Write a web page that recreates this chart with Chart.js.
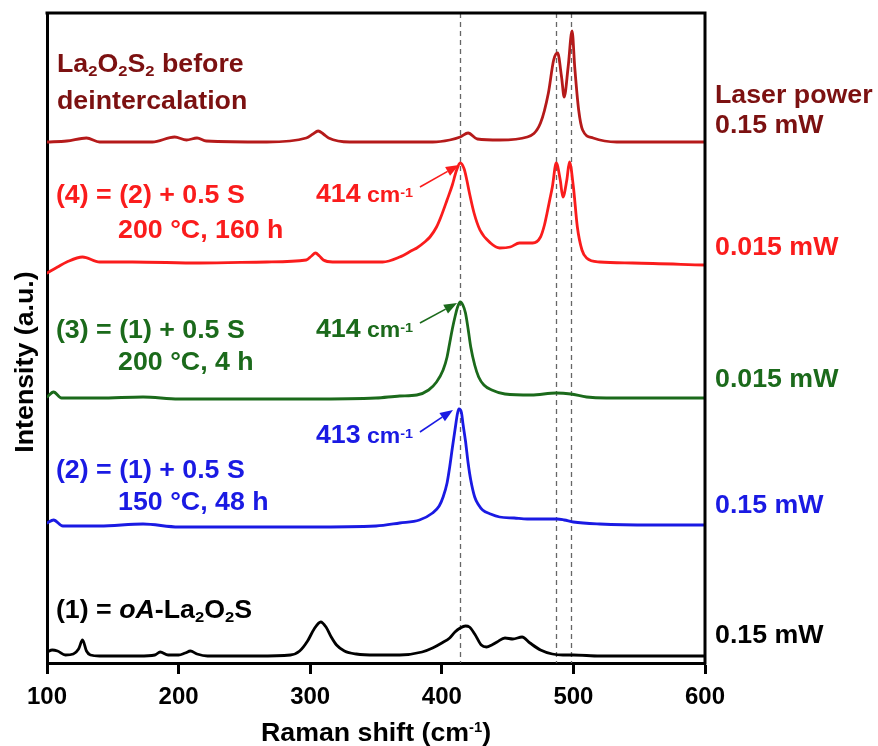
<!DOCTYPE html>
<html>
<head>
<meta charset="utf-8">
<title>Raman spectra</title>
<script src="https://cdn.jsdelivr.net/npm/chart.js@4.4.1/dist/chart.umd.min.js"></script>
<style>
  html, body { margin: 0; padding: 0; background: #fff; }
  #wrap { width: 878px; height: 746px; }
</style>
</head>
<body>
<div id="wrap"><canvas id="chart" width="878" height="746"></canvas></div>
<script>
// === Datos (intensidad en unidades arbitrarias, apiladas) ===
const xTicks = [100, 200, 300, 400, 500, 600];
const dashLines = [414, 487, 498];

// (1) oA-La2O2S, 0.15 mW
const s1X = [100,104,108,114,120,124,127,130,133,140,170,182,186,192,200,205,209,214,222,260,285,292,298,303,308,312,316,320,326,335,350,368,385,393,400,406,410,414,418,421,425,430,434,438,442,448,454,461,467,475,484,492,500,520,560,600];
const s1Y = [11,13,12,8,9,14,23,12,8,7,7,8,11,8,8,10,12,9,7,7,8,12,22,34,41,36,26,18,12,9,8,8,11,15,20,25,31,35,37,36,29,18,16,18,21,25,24,26,20,13,9,8,8,7,7,7];

// (2) = (1) + 0.5 S, 150 °C 48 h
const s2X = [100,105,112,140,173,200,250,300,350,368,383,393,398,401,404,406,408,410,412,413,415,416,418,420,422,425,428,431,437,444,455,465,478,487.5,493,500,520,560,600];
const s2Y = [140,143,137,137,139,136,136,136,137,140,143,150,157,166,180,196,215,233,250,254,250,240,222,200,183,166,158,153,149,146,145,144,144,144,143,141,139,138,138];

// (3) = (1) + 0.5 S, 200 °C 4 h
const s3X = [100,105,111,140,173,200,250,300,350,368,381,390,396,401,404,406,408,410,412,414,416,418,420,422,425,428,432,438,448,468,487,498,510,525,560,600];
const s3Y = [266,271,265,265,266,264,264,264,265,267,268,273,281,293,306,320,334,346,356,361,358,350,334,316,298,286,278,273,269,268,270,269,266,265,265,265];

// (4) = (2) + 0.5 S, 200 °C 160 h
const s4X = [100,108,115,127,140,165,216,267,297,301,304,307,310,317,355,368,378,381,387,391,396,399,404,408,411,414,417,419,421,424.5,429,437,444,452,459,469,475,478,480,482,484,487,490,492,495,497,500,503,506.5,510,520,545,600];
const s4Y = [390,396,401,406,401,401,400,401,403,407,410,407,403,401,401,406,413,415,421,426,436,445,463,478,492,500,494,483,470,450,433,420,415,416,420,420,426,438,450,463,476,500,483,466,483,501,476,436,413,405,401,400,398];

// La2O2S2 antes de la desintercalación
const s5X = [100,115,130,140,180,197,206,214,221,267,297,302,306,310,314,330,368,393,406,414,420,427,444,465,475,481,485,488,491,493,496,499,501,504,507,515,533,600];
const s5Y = [521,522,525,521,521,526,523,525,522,521,525,529,532,529,525,521,521,521,523,526,530,524,523,526,540,570,603,610,586,566,596,632,596,553,533,525,521,521];

// Colores
const BLACK = '#000000';
const BLUE = '#1a1ae3';
const GREEN = '#1b6a1b';
const RED = '#fa1c1c';
const DARKRED_LINE = '#b51a1a';
const DARKRED_TEXT = '#7c1111';

// Textos (posiciones en unidades de datos)
const leftLabels = [
  { x: 107.6, y: 591, color: DARKRED_TEXT, parts: [['La'],['2','sub'],['O'],['2','sub'],['S'],['2','sub'],[' before']] },
  { x: 107.6, y: 554, color: DARKRED_TEXT, parts: [['deintercalation']] },
  { x: 106.8, y: 460, color: RED,   parts: [['(4) = (2) + 0.5 S']] },
  { x: 154,   y: 425, color: RED,   parts: [['200 °C, 160 h']] },
  { x: 304.4, y: 461, color: RED,   parts: [['414'],[' cm','cm'],['-1','csup']] },
  { x: 106.8, y: 325, color: GREEN, parts: [['(3) = (1) + 0.5 S']] },
  { x: 154,   y: 293, color: GREEN, parts: [['200 °C, 4 h']] },
  { x: 304.4, y: 326, color: GREEN, parts: [['414'],[' cm','cm'],['-1','csup']] },
  { x: 106.8, y: 185, color: BLUE,  parts: [['(2) = (1) + 0.5 S']] },
  { x: 154,   y: 153, color: BLUE,  parts: [['150 °C, 48 h']] },
  { x: 304.4, y: 220, color: BLUE,  parts: [['413'],[' cm','cm'],['-1','csup']] },
  { x: 106.8, y: 45,  color: BLACK, parts: [['(1) = '],['oA','i'],['-La'],['2','sub'],['O'],['2','sub'],['S']] },
];
const rightLabels = [
  { y: 560, color: DARKRED_TEXT, text: 'Laser power' },
  { y: 530, color: DARKRED_TEXT, text: '0.15 mW' },
  { y: 408, color: RED,   text: '0.015 mW' },
  { y: 276, color: GREEN, text: '0.015 mW' },
  { y: 150, color: BLUE,  text: '0.15 mW' },
  { y: 20,  color: BLACK, text: '0.15 mW' },
];
const arrows = [
  { from: [383.4, 476], to: [413.0, 498], color: RED },
  { from: [383.4, 340], to: [411.6, 360], color: GREEN },
  { from: [383.4, 231], to: [408.5, 253], color: BLUE },
];

const FONT = '"Liberation Sans", Arial, Helvetica, sans-serif';
const SX = 1.07;   // el texto de la figura original es algo más ancho
const TXT = 25;

// === Utilidades ===
const zip = (xs, ys) => xs.map((x, i) => ({ x, y: ys[i] }));

function runStyle(kind, size){
  if(kind === 'sub')  return { f: `bold ${size*0.62}px ${FONT}`, dy: size*0.16 };
  if(kind === 'sup')  return { f: `bold ${size*0.55}px ${FONT}`, dy: -size*0.36 };
  if(kind === 'csup') return { f: `bold ${size*0.54}px ${FONT}`, dy: -size*0.22 };
  if(kind === 'cm')   return { f: `bold ${size*0.86}px ${FONT}`, dy: 0 };
  if(kind === 'i')    return { f: `italic bold ${size}px ${FONT}`, dy: 0 };
  return { f: `bold ${size}px ${FONT}`, dy: 0 };
}
function richWidth(ctx, parts, size){
  let w = 0;
  for(const [t, k] of parts){ ctx.font = runStyle(k, size).f; w += ctx.measureText(t).width; }
  return w;
}
function drawRich(ctx, parts, x, y, color, size, align='left', rot=0){
  ctx.save();
  ctx.translate(x, y);
  if(rot) ctx.rotate(rot);
  ctx.scale(SX, 1);
  ctx.fillStyle = color;
  ctx.textAlign = 'left';
  ctx.textBaseline = 'alphabetic';
  let cx = align === 'center' ? -richWidth(ctx, parts, size)/2 : 0;
  for(const [t, k] of parts){
    const r = runStyle(k, size);
    ctx.font = r.f;
    ctx.fillText(t, cx, r.dy);
    cx += ctx.measureText(t).width;
  }
  ctx.restore();
}
function drawArrow(ctx, x1, y1, x2, y2, color){
  const ang = Math.atan2(y2 - y1, x2 - x1);
  const L = 13, W = 5;
  ctx.save();
  ctx.strokeStyle = color; ctx.fillStyle = color; ctx.lineWidth = 1.6;
  ctx.beginPath();
  ctx.moveTo(x1, y1);
  ctx.lineTo(x2 - L*Math.cos(ang), y2 - L*Math.sin(ang));
  ctx.stroke();
  ctx.beginPath();
  ctx.moveTo(x2, y2);
  ctx.lineTo(x2 - L*Math.cos(ang) + W*Math.sin(ang), y2 - L*Math.sin(ang) - W*Math.cos(ang));
  ctx.lineTo(x2 - L*Math.cos(ang) - W*Math.sin(ang), y2 - L*Math.sin(ang) + W*Math.cos(ang));
  ctx.closePath();
  ctx.fill();
  ctx.restore();
}

// === Plugin: líneas discontinuas, marco, textos y flechas ===
const decor = {
  id: 'decor',
  beforeDatasetsDraw(chart){
    const { ctx, chartArea: a, scales: { x } } = chart;
    ctx.save();
    ctx.strokeStyle = '#666';
    ctx.lineWidth = 1.3;
    ctx.setLineDash([5, 4]);
    for(const v of dashLines){
      const px = Math.round(x.getPixelForValue(v)) + 0.5;
      ctx.beginPath(); ctx.moveTo(px, a.top); ctx.lineTo(px, a.bottom); ctx.stroke();
    }
    ctx.restore();
  },
  afterDraw(chart){
    const { ctx, chartArea: a, scales: { x, y } } = chart;
    ctx.save();
    ctx.strokeStyle = '#000'; ctx.lineWidth = 3;
    ctx.beginPath();
    ctx.moveTo(a.left - 1.5, a.top); ctx.lineTo(a.right, a.top); ctx.lineTo(a.right, a.bottom + 1.5);
    ctx.stroke();
    ctx.restore();

    leftLabels.forEach(l => drawRich(ctx, l.parts, x.getPixelForValue(l.x), y.getPixelForValue(l.y), l.color, TXT));
    rightLabels.forEach(l => drawRich(ctx, [[l.text]], a.right + 10, y.getPixelForValue(l.y), l.color, TXT));
    arrows.forEach(r => drawArrow(ctx,
      x.getPixelForValue(r.from[0]), y.getPixelForValue(r.from[1]),
      x.getPixelForValue(r.to[0]),   y.getPixelForValue(r.to[1]), r.color));

    // títulos de ejes
    drawRich(ctx, [['Raman shift (cm'],['-1','sup'],[')']], (a.left + a.right)/2, 741, '#000', TXT, 'center');
    drawRich(ctx, [['Intensity (a.u.)']], 33, a.top + 349, '#000', TXT, 'center', -Math.PI/2);
  }
};

const series = [
  { label: '(1)', xs: s1X, ys: s1Y, color: BLACK },
  { label: '(2)', xs: s2X, ys: s2Y, color: BLUE },
  { label: '(3)', xs: s3X, ys: s3Y, color: GREEN },
  { label: '(4)', xs: s4X, ys: s4Y, color: RED },
  { label: 'La2O2S2', xs: s5X, ys: s5Y, color: DARKRED_LINE },
];

new Chart(document.getElementById('chart').getContext('2d'), {
  type: 'line',
  data: {
    datasets: series.map(s => ({
      label: s.label,
      data: zip(s.xs, s.ys),
      borderColor: s.color,
      borderWidth: 2.8,
      pointRadius: 0,
      fill: false,
      cubicInterpolationMode: 'monotone',
      borderJoinStyle: 'round',
      borderCapStyle: 'round'
    }))
  },
  options: {
    responsive: false,
    animation: false,
    devicePixelRatio: 1,
    layout: { padding: { top: 13, right: 173, left: 0, bottom: 0 } },
    plugins: { legend: { display: false }, tooltip: { enabled: false } },
    scales: {
      x: {
        type: 'linear', min: xTicks[0], max: xTicks[xTicks.length - 1],
        afterBuildTicks: s => { s.ticks = xTicks.map(v => ({ value: v })); },
        ticks: { color: '#000', padding: 9, maxRotation: 0, font: { family: FONT, size: 24, weight: 'bold' } },
        grid: { drawOnChartArea: false, drawTicks: true, tickLength: 11, tickWidth: 3, tickColor: '#000' },
        border: { display: true, width: 3, color: '#000' },
        afterFit: s => { s.height = 83; }
      },
      y: {
        min: 0, max: 650,
        ticks: { display: false },
        grid: { display: false },
        border: { display: true, width: 3, color: '#000' },
        afterFit: s => { s.width = 47; }
      }
    }
  },
  plugins: [decor]
});
</script>
</body>
</html>
